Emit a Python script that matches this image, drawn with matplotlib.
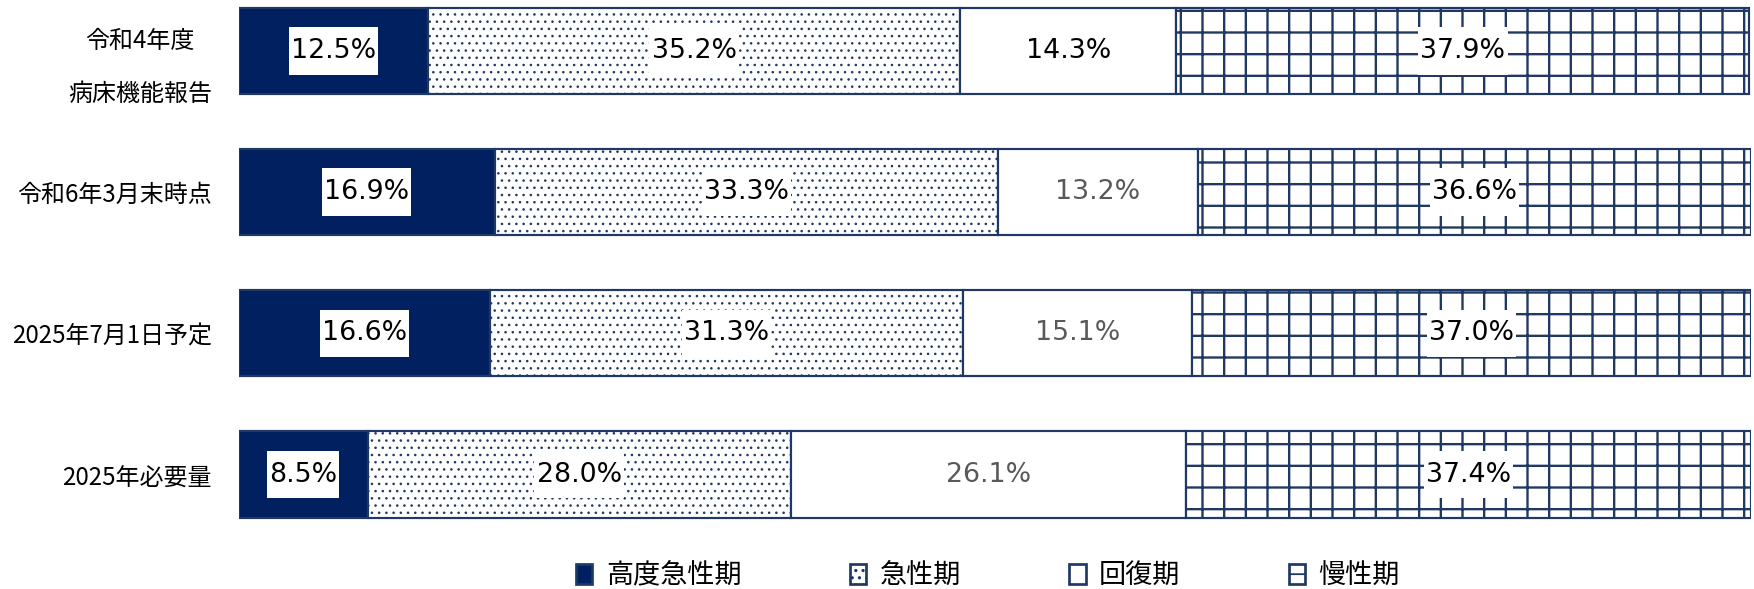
import matplotlib
matplotlib.use("Agg")
import matplotlib.pyplot as plt
from matplotlib.patches import Patch
from matplotlib.path import Path
import numpy as np

plt.rcParams['font.family'] = ['Noto Sans CJK JP', 'DejaVu Sans']

# ---- data ----
categories = ['令和4年度\n病床機能報告', '令和6年3月末時点', '2025年7月1日予定', '2025年必要量']
series_names = ['高度急性期', '急性期', '回復期', '慢性期']
high_acute = [12.5, 16.9, 16.6, 8.5]
acute = [35.2, 33.3, 31.3, 28.0]
recovery = [14.3, 13.2, 15.1, 26.1]
chronic = [37.9, 36.6, 37.0, 37.4]

# ---- styles ----
NAVY = '#002060'
EDGE = '#203864'
series_styles = [
    dict(facecolor=NAVY, hatch=None, hlw=1.0),
    dict(facecolor='white', hatch='...', hlw=0.6),
    dict(facecolor='white', hatch=None, hlw=1.0),
    dict(facecolor='white', hatch='+', hlw=1.3),
]
# label text colours per series / category
label_colors = [
    ['black'] * 4,
    ['black'] * 4,
    ['black', '#595959', '#595959', '#595959'],
    ['black'] * 4,
]

DPI = 130
fig = plt.figure(figsize=(1754 / DPI, 589 / DPI), dpi=DPI)
ax = fig.add_axes([239 / 1754, 1 - 531 / 589, (1751 - 239) / 1754, 531 / 589])

def tall_box(x0, y0, width, height, mutation_size):
    px = 0.08 * mutation_size
    py = 0.40 * mutation_size
    x0, y0 = x0 - px, y0 - py
    x1, y1 = x0 + width + 2 * px, y0 + height + 2 * py
    return Path([(x0, y0), (x1, y0), (x1, y1), (x0, y1), (x0, y0)],
                [Path.MOVETO, Path.LINETO, Path.LINETO, Path.LINETO, Path.CLOSEPOLY])

y = np.arange(len(categories))
all_series = [high_acute, acute, recovery, chronic]
left = np.zeros(len(categories))
for si, (vals, st) in enumerate(zip(all_series, series_styles)):
    vals = np.array(vals)
    with plt.rc_context({'hatch.linewidth': st['hlw']}):
        bars = ax.barh(y, vals, left=left, height=0.61, facecolor=st['facecolor'],
                       edgecolor=EDGE, linewidth=1.2, hatch=st['hatch'], zorder=2)
        for b in bars:
            if hasattr(b, 'set_hatch_linewidth'):
                b.set_hatch_linewidth(st['hlw'])
    for ci, (l, v) in enumerate(zip(left, vals)):
        ax.text(l + v / 2, y[ci], f'{v:.1f}%', ha='center', va='center',
                fontsize=14.8, family='DejaVu Sans', color=label_colors[si][ci],
                zorder=5,
                bbox=dict(boxstyle=tall_box, facecolor='white', edgecolor='none'))
    left = left + vals

ax.set_xlim(0, 100)
ax.set_ylim(3.4, -0.36)
ax.set_yticks(y)
ax.set_yticklabels(categories, fontsize=13.3, linespacing=2.35, multialignment='center')
ax.tick_params(axis='y', length=0, pad=15)
ax.set_xticks([])
for s in ax.spines.values():
    s.set_visible(False)

handles = []
for st in series_styles:
    with plt.rc_context({'hatch.linewidth': st['hlw']}):
        p = Patch(facecolor=st['facecolor'], edgecolor=EDGE, hatch=st['hatch'], linewidth=1.5)
    handles.append(p)
fig.legend(handles, series_names, loc='center', bbox_to_anchor=(0.5633, 0.022), ncol=4,
           frameon=False, fontsize=15, handlelength=0.6, handleheight=0.75,
           handletextpad=0.5, columnspacing=4.0)

fig.savefig('out.png', dpi=DPI)
